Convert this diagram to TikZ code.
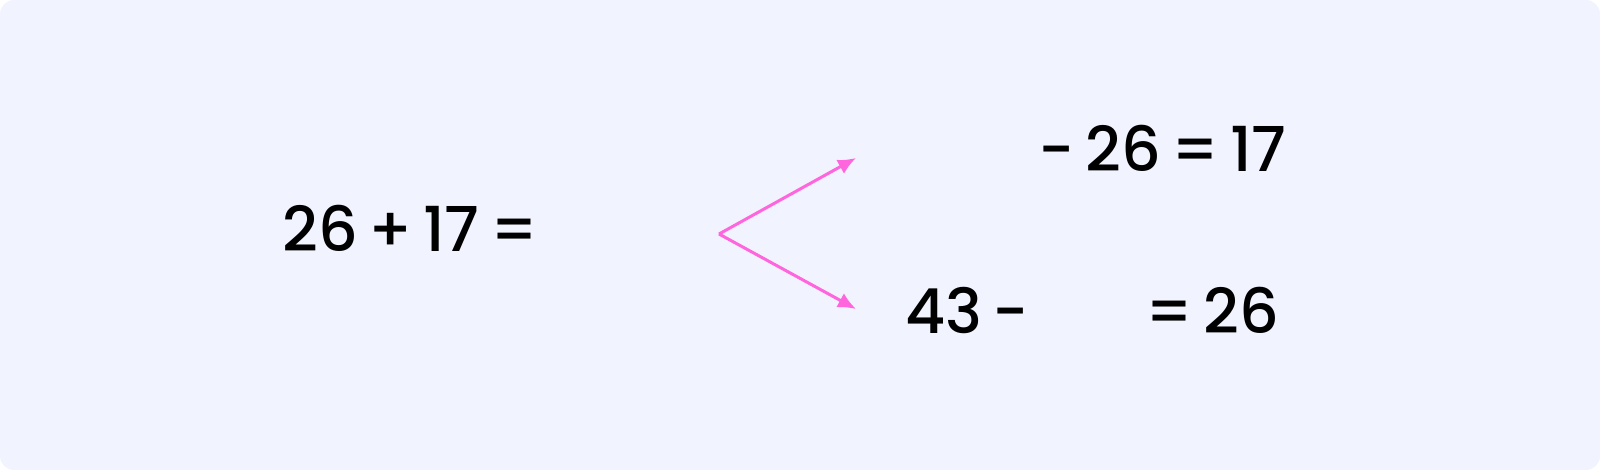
\documentclass[tikz,border=0pt]{standalone}
\usepackage{fontspec}
\setmainfont{Poppins}[UprightFont={* Medium}]
\usetikzlibrary{arrows.meta}
\definecolor{panel}{HTML}{F1F4FE}
\definecolor{arrowpink}{HTML}{FF66DD}
\tikzset{
  sum/.style={inner sep=0pt,font=\fontsize{31}{36}\selectfont,
    execute at begin node={\spaceskip=0.17em\relax}},
  link/.style={arrowpink,line width=1.5pt,-{Latex[length=9pt,width=8pt]}}
}
\begin{document}
\begin{tikzpicture}[x=0.5pt,y=-0.5pt]
    \fill[panel,rounded corners=7pt] (0,0) rectangle (1600,470);
    \useasboundingbox (0,0) rectangle (1600,470);
    % the addition
    \node[sum,anchor=base west] (lhs) at (282,252) {26 + 17 =};
    % the two subtractions
    \node[sum,anchor=base east] (top) at (1287,172) {- 26 = 17};
    \node[sum,anchor=base west] (botL) at (905,333) {43 -};
    \node[sum,anchor=base east] (botR) at (1280,333) {= 26};
    % arrows
    \coordinate (split) at (719,234);
    \coordinate (upTip) at (856,158);
    \coordinate (downTip) at (856,309);
    \draw[link] (split) -- (upTip);
    \draw[link] (split) -- (downTip);
\end{tikzpicture}
\end{document}
